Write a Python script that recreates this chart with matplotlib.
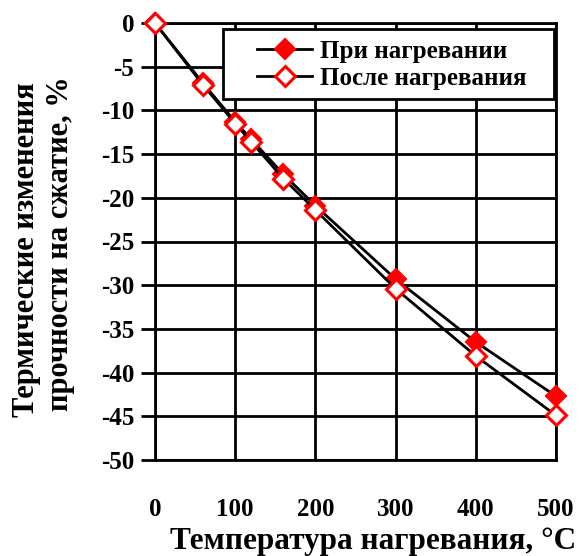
import matplotlib
matplotlib.use("Agg")
import matplotlib.pyplot as plt
from matplotlib.patches import Rectangle

temp = [0, 60, 100, 120, 160, 200, 300, 400, 500]
during = [0, -6.9, -11.3, -13.3, -17.3, -20.9, -29.3, -36.5, -42.7]
after = [0, -7.1, -11.5, -13.6, -17.8, -21.4, -30.4, -38.1, -44.9]
xticks = [0, 100, 200, 300, 400, 500]
yticks = list(range(0, -55, -5))

plt.rcParams['font.family'] = ['Liberation Serif', 'DejaVu Serif']
plt.rcParams['font.weight'] = 'bold'
plt.rcParams['axes.unicode_minus'] = False

W, H = 584, 556
fig = plt.figure(figsize=(W/100, H/100), dpi=100)
ax = fig.add_axes([155/W, 1-460/H, 401/W, 437/H])

ax.plot(temp, during, color='black', lw=2, marker='D', ms=10,
        mfc='red', mec='red', mew=1.5, label='При нагревании', zorder=3,
        clip_on=False)
ax.plot(temp, after, color='black', lw=2, marker='D', ms=10,
        mfc='white', mec='red', mew=2.2, label='После нагревания', zorder=4,
        clip_on=False)

ax.set_xlim(0, 500)
ax.set_ylim(-50, 0)
ax.set_xticks(xticks)
ax.set_yticks(yticks)
ax.grid(True, color='black', lw=2)
ax.set_axisbelow(True)
for s in ax.spines.values():
    s.set_linewidth(2)
    s.set_color('black')
ax.tick_params(axis='x', length=0, pad=27, labelsize=18)
ax.tick_params(axis='y', length=10, width=2, direction='out', pad=5, labelsize=18)
for lab in ax.get_xticklabels() + ax.get_yticklabels():
    lab.set_fontweight('bold')

fig.text(170/W, 1-541/H, 'Температура нагревания, °C', ha='left', va='center',
         fontsize=22.5, fontweight='bold')

fig.text(27/W, 1-250/H, 'Термические изменения', rotation=90,
         ha='center', va='center', fontsize=22, fontweight='bold')
fig.text(61/W, 1-244/H, 'прочности на сжатие, %', rotation=90,
         ha='center', va='center', fontsize=22, fontweight='bold')

# legend box
box = Rectangle((223/W, 1-99/H), 331/W, 70/H, transform=fig.transFigure,
                facecolor='white', edgecolor='black', lw=2, zorder=2)
fig.add_artist(box)
handles, labels = ax.get_legend_handles_labels()
leg = fig.legend(handles, labels, loc='center left',
                 bbox_to_anchor=(257/W, 1-65/H), fontsize=18, frameon=False,
                 handlelength=2.2, handletextpad=0.3, borderpad=0,
                 labelspacing=0.15, borderaxespad=0)
leg.set_zorder(3)
for t in leg.get_texts():
    t.set_fontweight('bold')

fig.savefig('out.png', dpi=100)
